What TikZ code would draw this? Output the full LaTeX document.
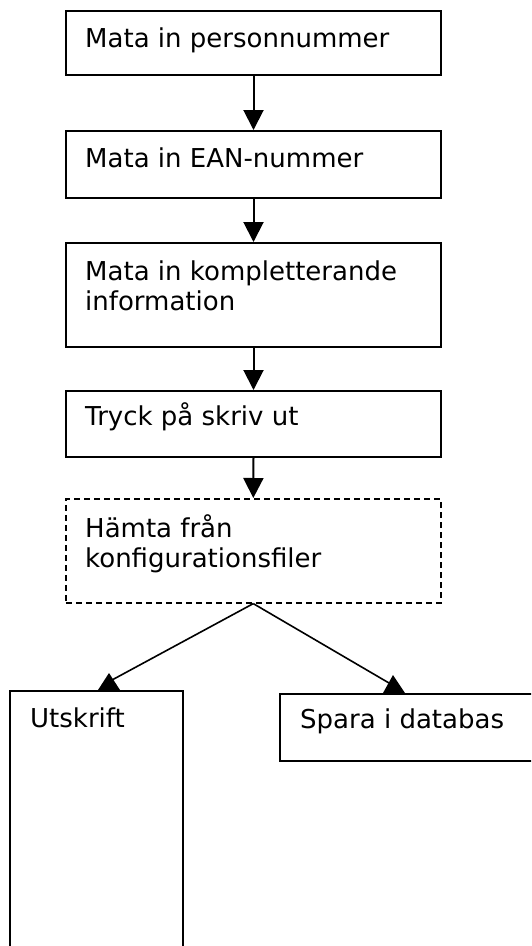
\documentclass[tikz,border=0pt]{standalone}
\usepackage{fontspec}
\setmainfont{DejaVu Sans}
\usetikzlibrary{arrows.meta}
\begin{document}
\begin{tikzpicture}[x=1pt,y=-1pt,
  box/.style={draw, line width=2pt, rectangle, anchor=north west, inner sep=0pt},
  dbox/.style={box, line width=1.6pt, dash pattern=on 6pt off 4pt},
  txt/.style={anchor=base west, inner sep=0pt, align=left, font=\fontsize{26}{30}\selectfont},
  flow/.style={line width=2pt, -{Triangle[length=20pt,width=20pt]}},
  branch/.style={line width=1.6pt},
  head/.style={fill=black}
]
\useasboundingbox (0,0) rectangle (531,946);
\clip (0,0) rectangle (531,946);

% main chain of steps
\node[box, minimum width=375pt, minimum height=64pt]  (b1) at (65,10)  {};
\node[box, minimum width=375pt, minimum height=67pt]  (b2) at (65,130) {};
\node[box, minimum width=375pt, minimum height=104pt] (b3) at (65,242) {};
\node[box, minimum width=375pt, minimum height=66pt]  (b4) at (65,390) {};
\node[dbox, minimum width=375pt, minimum height=104pt] (b5) at (65,498) {};

% the two outcomes (they run past the page edge)
\node[box, minimum width=173pt, minimum height=320pt] (b6) at (9,690)  {};
\node[box, minimum width=300pt, minimum height=67pt]  (b7) at (279,693) {};

% texts (base anchor of a two-line node sits on its last line)
\node[txt] (t1) at ([shift={(20,37)}]b1.north west) {Mata in personnummer};
\node[txt] (t2) at ([shift={(20,37)}]b2.north west) {Mata in EAN-nummer};
\node[txt] (t3) at ([shift={(20,68)}]b3.north west) {Mata in kompletterande\\information};
\node[txt] (t4) at ([shift={(20,35)}]b4.north west) {Tryck på skriv ut};
\node[txt] (t5) at ([shift={(20,69)}]b5.north west) {Hämta från\\konfigurationsfiler};
\node[txt] (t6) at ([shift={(21,37)}]b6.north west) {Utskrift};
\node[txt] (t7) at ([shift={(21,35)}]b7.north west) {Spara i databas};

% connectors
\draw[flow] (b1.south) -- (b2.north);
\draw[flow] (b2.south) -- (b3.north);
\draw[flow] (b3.south) -- (b4.north);
\draw[flow] (b4.south) -- (b5.north);

\coordinate (lt) at ([shift={(103,-10)}]b6.north west);
\coordinate (rt) at ([shift={(110,-10)}]b7.north west);
\draw[branch] (b5.south) -- (lt);
\draw[branch] (b5.south) -- (rt);
\fill[head] ([shift={(89,0)}]b6.north west) -- ([shift={(100,-17)}]b6.north west)
  -- ([shift={(111,0)}]b6.north west) -- cycle;
\fill[head] ([shift={(104,0)}]b7.north west) -- ([shift={(114,-18)}]b7.north west)
  -- ([shift={(126,0)}]b7.north west) -- cycle;
\end{tikzpicture}
\end{document}
